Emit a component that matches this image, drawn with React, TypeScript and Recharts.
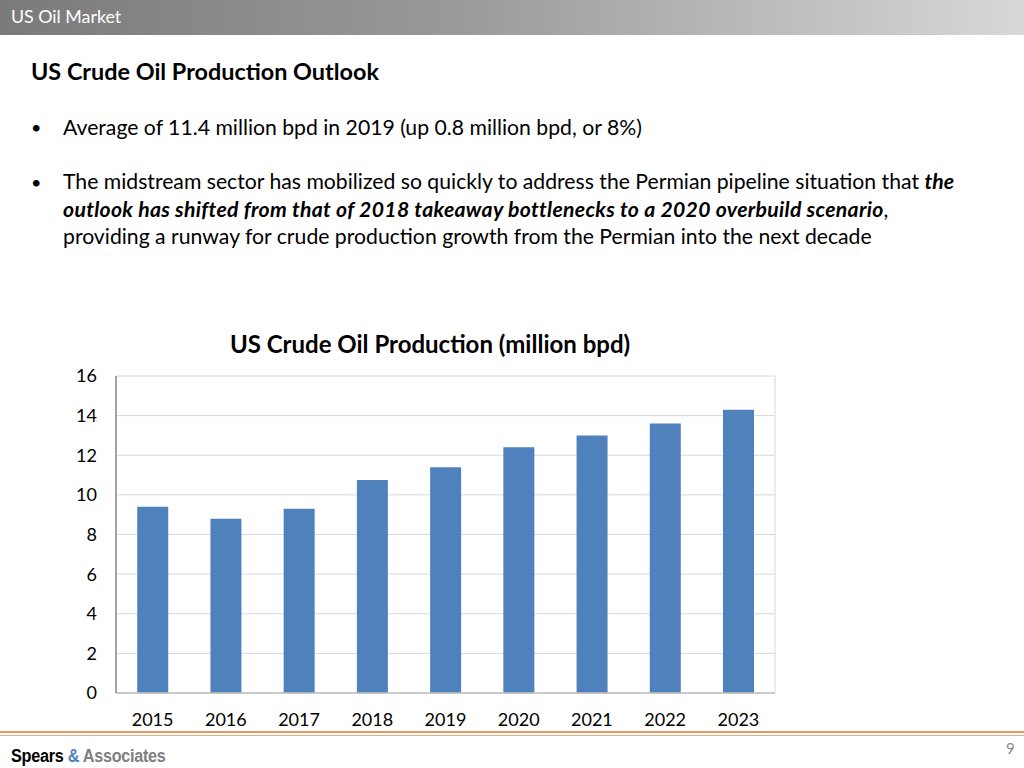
import React from "react";
import { BarChart, Bar, XAxis, YAxis, CartesianGrid } from "recharts";

const years = ["2015", "2016", "2017", "2018", "2019", "2020", "2021", "2022", "2023"];
const production = [9.4, 8.8, 9.3, 10.75, 11.4, 12.4, 13.0, 13.6, 14.3];
const yTicks = [0, 2, 4, 6, 8, 10, 12, 14, 16];

const data = years.map((y, i) => ({ year: y, value: production[i] }));

const FONT = "Lato, 'Open Sans', sans-serif";

export default function App() {
  return (
    <div
      style={{
        position: "absolute",
        left: 0,
        top: 0,
        width: 1024,
        height: 768,
        background: "#ffffff",
        overflow: "hidden",
        fontFamily: FONT,
        color: "#000",
      }}
    >
      {/* header bar */}
      <div
        style={{
          position: "absolute",
          left: 0,
          top: 0,
          width: 1024,
          height: 35,
          background: "linear-gradient(to right, #7a7a7a 0%, #9a9a9a 45%, #d8d8d8 100%)",
        }}
      />
      <div
        style={{
          position: "absolute",
          left: 11,
          top: 5,
          fontSize: 17.8,
          color: "#ffffff",
          whiteSpace: "nowrap",
        }}
      >
        US Oil Market
      </div>

      {/* slide title */}
      <div
        style={{
          position: "absolute",
          left: 31,
          top: 57,
          fontSize: 23.4,
          fontWeight: 700,
          whiteSpace: "nowrap",
        }}
      >
        US Crude Oil Production Outlook
      </div>

      {/* bullets */}
      <div style={{ position: "absolute", left: 31, top: 116, fontSize: 18, whiteSpace: "nowrap" }}>•</div>
      <div style={{ position: "absolute", left: 63, top: 114, fontSize: 21.2, whiteSpace: "nowrap" }}>
        Average of 11.4 million bpd in 2019 (up 0.8 million bpd, or 8%)
      </div>

      <div style={{ position: "absolute", left: 31, top: 171, fontSize: 18, whiteSpace: "nowrap" }}>•</div>
      <div
        style={{
          position: "absolute",
          left: 63,
          top: 168,
          fontSize: 21.2,
          lineHeight: "27.5px",
          whiteSpace: "nowrap",
        }}
      >
        <div style={{ height: 27.5 }}>
          The midstream sector has mobilized so quickly to address the Permian pipeline situation that{" "}
          <b>
            <i>the</i>
          </b>
        </div>
        <div style={{ height: 27.5 }}>
          <b>
            <i style={{ letterSpacing: 0.3 }}>
              outlook has shifted from that of 2018 takeaway bottlenecks to a 2020 overbuild scenario
            </i>
          </b>
          ,
        </div>
        <div style={{ height: 27.5 }}>
          providing a runway for crude production growth from the Permian into the next decade
        </div>
      </div>

      {/* chart title */}
      <div
        style={{
          position: "absolute",
          left: 180,
          width: 500,
          top: 329,
          textAlign: "center",
          fontSize: 24,
          fontWeight: 700,
          whiteSpace: "nowrap",
        }}
      >
        US Crude Oil Production (million bpd)
      </div>

      {/* chart */}
      <div style={{ position: "absolute", left: 0, top: 360 }}>
        <BarChart
          width={800}
          height={380}
          data={data}
          margin={{ top: 16, right: 25, bottom: 17, left: 56 }}
          barCategoryGap="29%"
        >
          <CartesianGrid
            stroke="#d9d9d9"
            strokeWidth={1}
            vertical={true}
            verticalCoordinatesGenerator={({ offset }: any) => [offset.left + offset.width]}
          />
          <XAxis
            dataKey="year"
            height={30}
            tickLine={false}
            tickSize={0}
            tickMargin={20}
            axisLine={{ stroke: "#bfbfbf", strokeWidth: 1.5 }}
            tick={{ fill: "#000", fontSize: 18, fontFamily: FONT }}
            interval={0}
          />
          <YAxis
            width={60}
            domain={[0, 16]}
            ticks={yTicks}
            interval={0}
            tickLine={false}
            tickSize={0}
            tickMargin={19}
            axisLine={{ stroke: "#868686", strokeWidth: 1.5 }}
            tick={{ fill: "#000", fontSize: 18, fontFamily: FONT }}
          />
          <Bar dataKey="value" fill="#4f81bd" isAnimationActive={false} />
        </BarChart>
      </div>

      {/* footer lines */}
      <div style={{ position: "absolute", left: 0, top: 731, width: 1024, height: 1.5, background: "#e39a68" }} />
      <div style={{ position: "absolute", left: 0, top: 734.5, width: 1024, height: 1.5, background: "#e8a878" }} />

      {/* footer logo */}
      <div
        style={{
          position: "absolute",
          left: 11,
          top: 746,
          fontSize: 18,
          fontWeight: 700,
          fontFamily: "'Liberation Sans Narrow', 'Liberation Sans', Arial, sans-serif",
          whiteSpace: "nowrap",
          letterSpacing: -0.3,
          transform: "scaleX(0.9)",
          transformOrigin: "left center",
        }}
      >
        <span style={{ color: "#000" }}>Spears</span>{" "}
        <span style={{ color: "#4f81bd" }}>&amp;</span>{" "}
        <span style={{ color: "#7f7f7f" }}>Associates</span>
      </div>

      {/* page number */}
      <div
        style={{
          position: "absolute",
          left: 1006,
          top: 739,
          fontSize: 15,
          color: "#8c8c8c",
          whiteSpace: "nowrap",
        }}
      >
        9
      </div>
    </div>
  );
}
